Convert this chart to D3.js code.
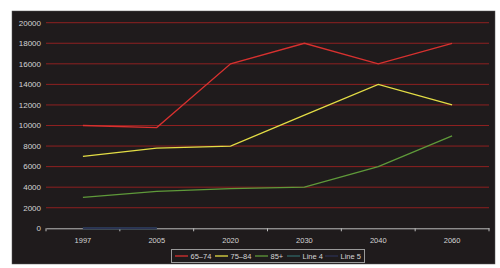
<!DOCTYPE html>
<html><head><meta charset="utf-8">
<script src="https://cdn.jsdelivr.net/npm/d3@7"></script>
<style>body{margin:0;background:#fff}svg{display:block}</style>
</head><body>
<script>
const categories = ["1997","2005","2020","2030","2040","2060"];
const s6574 = [10000, 9800, 16000, 18000, 16000, 18000];
const s7584 = [7000, 7800, 8000, 11000, 14000, 12000];
const s85 = [3000, 3600, 3850, 4000, 6000, 9000];
const line4 = [0, 0, null, null, null, null];
const line5 = [0, 0, null, null, null, null];
const yTicks = [0,2000,4000,6000,8000,10000,12000,14000,16000,18000,20000];
const seriesNames = ["65–74","75–84","85+","Line 4","Line 5"];
const seriesColors = ["#d8312f","#e3dd45","#5f9a3a","#2f6566","#2b3152"];
const seriesData = [s6574, s7584, s85, line4, line5];

const W=500,H=268;
const FONT="Liberation Sans, Arial, sans-serif";
const svg=d3.select("body").append("svg").attr("width",W).attr("height",H);
svg.append("rect").attr("x",12).attr("y",11).attr("width",483).attr("height",253)
  .attr("fill","#1f1b1c").attr("stroke","#555").attr("stroke-width",0.5);

const x=d3.scaleBand().domain(categories).range([46,489]);
const y=d3.scaleLinear().domain([0,20000]).range([228.3,22.7]);

// grid
svg.append("g").selectAll("line").data(yTicks.filter(d=>d>0)).join("line")
  .attr("x1",46).attr("x2",489).attr("y1",d=>y(d)).attr("y2",d=>y(d))
  .attr("stroke","#8e2020").attr("stroke-width",1);

// y labels
svg.append("g").selectAll("text").data(yTicks).join("text")
  .attr("x",41).attr("y",d=>y(d)).attr("dy","0.35em").attr("text-anchor","end")
  .attr("fill","#d4d4d4").attr("font-family",FONT).attr("font-size",8)
  .text(d=>d);

const lineGen=d3.line().defined(d=>d.v!=null).x(d=>x(d.c)+x.bandwidth()/2).y(d=>y(d.v));

// x axis
const xAxis=d3.axisBottom(x).tickSize(0).tickPadding(9);
const ax=svg.append("g").attr("transform","translate(0,228.3)").call(xAxis);
ax.select(".domain").attr("stroke","#bdbdbd").attr("stroke-width",1);
ax.selectAll("text").attr("fill","#d4d4d4").attr("font-family",FONT).attr("font-size",7.5);
const bounds=categories.map(c=>x(c)).concat([x.range()[1]]);
ax.selectAll("line.b").data(bounds).join("line").attr("class","b")
  .attr("x1",d=>d).attr("x2",d=>d).attr("y1",0).attr("y2",3).attr("stroke","#bdbdbd");

// series lines
[3,4].forEach(i=>{
  const pts=categories.map((c,j)=>({c,v:seriesData[i][j]}));
  svg.append("path").attr("d",lineGen(pts)).attr("fill","none").attr("stroke",seriesColors[i]).attr("stroke-width",2);
});
[2,1,0].forEach(i=>{
  const pts=categories.map((c,j)=>({c,v:seriesData[i][j]}));
  svg.append("path").attr("d",lineGen(pts)).attr("fill","none").attr("stroke",seriesColors[i]).attr("stroke-width",1.3);
});

// legend
const lg=svg.append("g");
lg.append("rect").attr("x",171.5).attr("y",249.5).attr("width",193).attr("height",13)
  .attr("fill","none").attr("stroke","#9a9a9a").attr("stroke-width",1);
const lx=[175,215,255,287,325];
seriesNames.forEach((n,i)=>{
  lg.append("line").attr("x1",lx[i]).attr("x2",lx[i]+13).attr("y1",256).attr("y2",256)
    .attr("stroke",seriesColors[i]).attr("stroke-width",1.3);
  lg.append("text").attr("x",lx[i]+15.5).attr("y",256).attr("dy","0.35em")
    .attr("fill","#d4d4d4").attr("font-family",FONT).attr("font-size",7.5).text(n);
});
</script>
</body></html>
